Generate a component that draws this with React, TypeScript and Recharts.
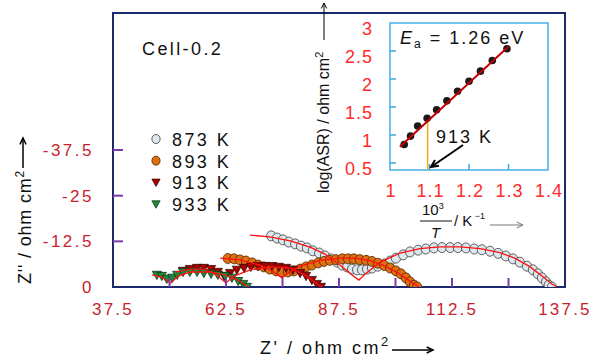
import React from "react";
import { ScatterChart, Scatter, XAxis, YAxis, ReferenceArea, ReferenceLine } from "recharts";

// Nyquist data, [Z', -Z''] in ohm cm2
const temps = ["873 K", "893 K", "913 K", "933 K"];

const s873: [number, number][] = [
  [72.5, 14.0], [73.8, 13.4], [75.1, 12.9], [76.4, 12.3], [77.8, 11.8], [79.1, 11.2], [80.4, 10.7],
  [81.7, 9.9], [83.1, 9.3], [84.4, 8.5], [85.7, 7.7], [87.1, 6.8], [88.2, 6.0], [89.3, 5.5], [90.4, 4.9],
  [91.5, 4.7], [92.6, 4.7], [93.7, 4.9], [94.8, 5.2], [96.1, 5.7], [97.5, 6.3], [98.8, 7.1], [100.1, 7.9],
  [101.7, 8.8], [103.2, 9.6], [105.0, 10.1], [106.7, 10.4], [108.5, 10.7], [110.3, 10.8], [112.1, 10.8],
  [113.8, 10.8], [115.6, 10.7], [117.4, 10.4], [119.1, 10.2], [120.9, 9.8], [122.7, 9.2], [124.4, 8.5],
  [126.0, 7.7], [127.5, 6.8], [129.1, 5.7], [130.4, 4.7], [131.5, 3.6], [132.4, 2.5], [133.3, 1.4],
  [133.9, 0.5], [134.6, 0.0],
];
const s893: [number, number][] = [
  [62.9, 7.8], [64.3, 7.7], [65.6, 7.4], [66.9, 7.1], [68.3, 6.6], [69.6, 6.0], [70.9, 5.5], [72.2, 4.9],
  [73.6, 4.4], [74.9, 4.1], [76.2, 4.1], [77.5, 4.4], [78.9, 4.9], [80.2, 5.5], [81.5, 6.0], [82.9, 6.6],
  [84.2, 7.0], [85.5, 7.3], [86.8, 7.5], [88.2, 7.7], [89.5, 7.7], [90.8, 7.7], [92.1, 7.5], [93.5, 7.3],
  [94.8, 7.0], [96.1, 6.5], [97.5, 5.9], [98.8, 5.2], [100.1, 4.4], [101.2, 3.6], [102.3, 2.5],
  [103.2, 1.4], [104.1, 0.5], [104.8, 0.0],
];
const s913: [number, number][] = [
  [53.0, 4.4], [54.5, 4.9], [56.1, 5.2], [57.6, 5.2], [59.2, 4.9], [60.7, 4.1], [62.1, 3.0], [63.4, 3.8],
  [64.9, 4.7], [66.5, 5.2], [68.0, 5.5], [69.6, 5.7], [71.1, 5.7], [72.7, 5.7], [74.2, 5.5], [75.8, 5.2],
  [77.3, 4.7], [78.9, 3.8], [80.2, 3.0], [81.5, 1.9], [82.6, 0.8], [83.5, 0.0],
];
const s933: [number, number][] = [
  [47.2, 3.3], [48.3, 3.0], [49.4, 2.2], [50.6, 2.5], [51.7, 3.3], [53.0, 4.1], [54.5, 4.1], [56.1, 4.1],
  [57.6, 3.8], [59.2, 3.6], [60.7, 3.3], [62.3, 3.0], [63.8, 2.5], [65.2, 1.6], [66.3, 0.8], [67.1, 0.0],
];

// equivalent-circuit fits
const fit873: [number, number][] = [
  [67.8, 14.2], [72.2, 13.7], [76.7, 12.6], [81.1, 10.9], [84.4, 9.0], [87.7, 6.0], [90.4, 3.3],
  [91.9, 1.9], [93.5, 3.8], [96.6, 6.8], [101.0, 9.3], [105.4, 10.5], [109.8, 11.0], [114.3, 11.0],
  [118.7, 10.5], [123.1, 9.4], [126.4, 7.9], [129.8, 5.5], [132.4, 3.0], [134.6, 0.8], [135.7, 0],
];
const fit893: [number, number][] = [
  [61.2, 7.9], [65.6, 7.4], [70.0, 6.0], [72.7, 4.4], [74.9, 2.5], [76.2, 3.8], [78.9, 5.7], [83.3, 7.3],
  [87.7, 7.9], [91.0, 7.9], [94.4, 7.2], [97.7, 5.7], [100.6, 3.8], [103.2, 1.6], [105.2, 0],
];
const fit913: [number, number][] = [
  [51.4, 4.1], [54.5, 4.9], [57.9, 4.9], [60.7, 3.0], [62.5, 1.1], [64.3, 3.0], [67.8, 4.7], [72.2, 5.5],
  [76.7, 5.2], [80.0, 3.3], [82.4, 1.1], [83.7, 0],
];
const fit933: [number, number][] = [
  [46.1, 3.3], [48.3, 2.7], [50.3, 1.1], [51.9, 3.0], [54.5, 4.1], [59.0, 4.1], [62.3, 3.3], [65.2, 1.9],
  [67.4, 0],
];

const xTicks = [37.5, 50, 62.5, 75, 87.5, 100, 112.5, 125, 137.5];
const xLabels = [37.5, 62.5, 87.5, 112.5, 137.5];
const yTicks = [0, 12.5, 25, 37.5];

// Arrhenius inset
const invT = [1.036, 1.052, 1.07, 1.094, 1.118, 1.144, 1.171, 1.2, 1.229, 1.259, 1.296];
const logAsr = [0.83, 0.98, 1.16, 1.3, 1.45, 1.61, 1.78, 1.96, 2.14, 2.33, 2.54];
const arrFit: [number, number][] = [[1.025, 0.79], [1.3, 2.58]];
const insetXTicks = [1, 1.1, 1.2, 1.3, 1.4];
const insetYTicks = [0.5, 1, 1.5, 2, 2.5, 3];
const markedT = 913;

const FONT = "'Liberation Sans', Arial, sans-serif";
const pts = (a: [number, number][]) => a.map(([x, y]) => ({ x, y }));

const styles = [
  { kind: "circle", fill: "#dde8ee", stroke: "#3a3a3a" },
  { kind: "circle", fill: "#e0700f", stroke: "#4a2300" },
  { kind: "tri", fill: "#a80000", stroke: "#2a0000" },
  { kind: "tri", fill: "#1d8a3a", stroke: "#08260e" },
];
const series = [s873, s893, s913, s933];
const fits = [fit873, fit893, fit913, fit933];

const marker = (i: number, cx: number, cy: number, k = 1) => {
  const st = styles[i];
  if (st.kind === "circle")
    return <ellipse cx={cx} cy={cy} rx={4.6 * k} ry={5 * k} fill={st.fill} stroke={st.stroke} strokeWidth={0.8} />;
  const s = 4.6 * k;
  return (
    <polygon
      points={`${cx - s},${cy - s * 0.8} ${cx + s},${cy - s * 0.8} ${cx},${cy + s}`}
      fill={st.fill}
      stroke={st.stroke}
      strokeWidth={0.7}
    />
  );
};

const MainXTick = (p: any) => {
  const { x, y, payload } = p;
  const v = payload.value;
  return (
    <g>
      {v > 37.5 && v < 137.5 && <line x1={x} x2={x} y1={y} y2={y - 9} stroke="#7a3aa8" strokeWidth={2} />}
      {xLabels.includes(v) && (
        <text x={x} y={y + 28} textAnchor="middle" fontSize={17} letterSpacing={2.2} fill="#c8232c" fontFamily={FONT}>
          {v}
        </text>
      )}
    </g>
  );
};

const MainYTick = (p: any) => {
  const { x, y, payload } = p;
  const v = payload.value;
  return (
    <g>
      {v > 0 && <line x1={x} x2={x + 10} y1={y} y2={y} stroke="#7a3aa8" strokeWidth={2} />}
      <text x={x - 19} y={y + 6} textAnchor="end" fontSize={17} letterSpacing={2.5} fill="#c8232c" fontFamily={FONT}>
        {v === 0 ? "0" : `-${v}`}
      </text>
    </g>
  );
};

const InsetXTick = (p: any) => {
  const { x, y, payload } = p;
  const v = payload.value;
  return (
    <g>
      {v > 1 && v < 1.4 && <line x1={x} x2={x} y1={y} y2={y - 6} stroke="#3aa8e0" strokeWidth={1.5} />}
      <text x={x + 1} y={y + 27} textAnchor="middle" fontSize={18} letterSpacing={1} fill="#ff2a2a" fontFamily={FONT}>
        {v}
      </text>
    </g>
  );
};

const InsetYTick = (p: any) => {
  const { x, y, payload } = p;
  const v = payload.value;
  return (
    <g>
      {v < 3 && <line x1={x} x2={x + 6} y1={y} y2={y} stroke="#3aa8e0" strokeWidth={1.5} />}
      <text x={x - 17} y={y + 12} textAnchor="end" fontSize={18} letterSpacing={1} fill="#ff2a2a" fontFamily={FONT}>
        {v}
      </text>
    </g>
  );
};

const Arrow = ({ x1, y1, x2, y2, color = "#000", w = 1.5, head = 7 }: any) => {
  const a = Math.atan2(y2 - y1, x2 - x1);
  const h1x = x2 - head * Math.cos(a - 0.45);
  const h1y = y2 - head * Math.sin(a - 0.45);
  const h2x = x2 - head * Math.cos(a + 0.45);
  const h2y = y2 - head * Math.sin(a + 0.45);
  return (
    <g stroke={color} strokeWidth={w} fill="none">
      <line x1={x1} y1={y1} x2={x2} y2={y2} />
      <polyline points={`${h1x},${h1y} ${x2},${y2} ${h2x},${h2y}`} />
    </g>
  );
};

export default function App() {
  const fitAt = (x: number) => {
    const [[x0, y0], [x1, y1]] = arrFit;
    return y0 + ((x - x0) * (y1 - y0)) / (x1 - x0);
  };
  const markX = 1000 / markedT;
  const insetPts = invT.map((x, i) => ({ x, y: logAsr[i] }));

  return (
    <div style={{ position: "absolute", left: 0, top: 0, width: 593, height: 358, background: "#fff", fontFamily: FONT }}>
      <div style={{ position: "absolute", left: 0, top: 0 }}>
        <ScatterChart width={593} height={358} margin={{ top: 13, right: 28, left: 0, bottom: 0 }}>
          <XAxis
            type="number"
            dataKey="x"
            domain={[37.5, 137.5]}
            ticks={xTicks}
            interval={0}
            allowDataOverflow
            height={71}
            tickSize={0}
            tickMargin={0}
            tickLine={false}
            axisLine={{ stroke: "#1b2a6b", strokeWidth: 2 }}
            tick={<MainXTick />}
          />
          <YAxis
            type="number"
            dataKey="y"
            domain={[0, 75]}
            ticks={yTicks}
            interval={0}
            allowDataOverflow
            width={113}
            tickSize={0}
            tickMargin={0}
            tickLine={false}
            axisLine={{ stroke: "#1b2a6b", strokeWidth: 2 }}
            tick={<MainYTick />}
          />
          <ReferenceArea x1={37.5} x2={137.5} y1={0} y2={75} fill="none" stroke="#1b2a6b" strokeWidth={2} ifOverflow="visible" />
          {series.map((s, i) => (
            <Scatter
              key={temps[i]}
              name={temps[i]}
              data={pts(s)}
              isAnimationActive={false}
              shape={(p: any) => marker(i, p.cx, p.cy)}
            />
          ))}
          {fits.map((f, i) => (
            <Scatter
              key={"fit" + temps[i]}
              data={pts(f)}
              isAnimationActive={false}
              line={{ stroke: "#ff1010", strokeWidth: 1.3 }}
              shape={() => <g />}
            />
          ))}
        </ScatterChart>
      </div>

      <div style={{ position: "absolute", left: 290, top: 0 }}>
        <ScatterChart width={303} height={240} margin={{ top: 23, right: 45, left: 0, bottom: 0 }}>
          <XAxis
            type="number"
            dataKey="x"
            domain={[1, 1.4]}
            ticks={insetXTicks}
            interval={0}
            allowDataOverflow
            height={70}
            tickSize={0}
            tickMargin={0}
            tickLine={false}
            axisLine={false}
            tick={<InsetXTick />}
          />
          <YAxis
            type="number"
            dataKey="y"
            domain={[0.375, 3]}
            ticks={insetYTicks}
            interval={0}
            allowDataOverflow
            width={100}
            tickSize={0}
            tickMargin={0}
            tickLine={false}
            axisLine={false}
            tick={<InsetYTick />}
          />
          <ReferenceArea x1={1} x2={1.4} y1={0.375} y2={3} fill="#fff" stroke="#45b0e6" strokeWidth={1.5} ifOverflow="visible" />
          <ReferenceLine
            segment={[{ x: markX, y: 0.375 }, { x: markX, y: fitAt(markX) }]}
            stroke="#f5a623"
            strokeWidth={1.5}
          />
          <Scatter
            data={insetPts}
            isAnimationActive={false}
            shape={(p: any) => <circle cx={p.cx} cy={p.cy} r={3.8} fill="#1a1a1a" />}
          />
          <Scatter
            data={pts(arrFit)}
            isAnimationActive={false}
            line={{ stroke: "#c40000", strokeWidth: 2 }}
            shape={() => <g />}
          />
        </ScatterChart>
      </div>

      <svg width={593} height={358} style={{ position: "absolute", left: 0, top: 0, pointerEvents: "none" }} fontFamily={FONT}>
        <text x={142} y={55} fontSize={18} letterSpacing={2.4} fill="#111">Cell-0.2</text>
        {temps.map((t, i) => {
          const cy = 139 + i * 21.7;
          return (
            <g key={t}>
              {marker(i, 156, cy, 0.9)}
              <text x={172} y={cy + 7} fontSize={18} letterSpacing={2.4} fill="#111">{t}</text>
            </g>
          );
        })}

        <text x={31} y={284} fontSize={18} letterSpacing={0.8} fill="#111" transform="rotate(-90 31 284)">
          Z'' / ohm cm<tspan fontSize={12} dy={-7}>2</tspan>
        </text>
        <Arrow x1={23} y1={168} x2={23} y2={138} />

        <text x={260} y={354} fontSize={18} letterSpacing={2.5} fill="#111">
          Z' / ohm cm<tspan fontSize={13} dy={-8}>2</tspan>
        </text>
        <Arrow x1={392} y1={350} x2={433} y2={350} />

        <text x={329} y={193} fontSize={16} fill="#111" transform="rotate(-90 329 193)">
          log(ASR) / ohm cm<tspan fontSize={11} dy={-6}>2</tspan>
        </text>
        <Arrow x1={324} y1={40} x2={324} y2={3} w={1} head={6} />

        <text x={400} y={44} fontSize={18} letterSpacing={2} fill="#111">
          <tspan fontStyle="italic">E</tspan>
          <tspan fontSize={12} dy={4}>a</tspan>
          <tspan dy={-4}> = 1.26 eV</tspan>
        </text>
        <text x={436} y={143} fontSize={18} letterSpacing={2} fill="#111">913 K</text>
        <Arrow x1={463} y1={145} x2={431} y2={167} w={2} head={8} />

        <text x={422} y={215} fontSize={15} fill="#111">
          10<tspan fontSize={9} dy={-6}>3</tspan>
        </text>
        <line x1={420} x2={452} y1={221} y2={221} stroke="#111" strokeWidth={1} />
        <text x={431} y={238} fontSize={15} fontStyle="italic" fill="#111">T</text>
        <text x={454} y={226} fontSize={15} fill="#111">
          / K<tspan fontSize={9} dy={-7}> −1</tspan>
        </text>
        <Arrow x1={490} y1={225} x2={523} y2={225} color="#777" w={1} head={7} />
      </svg>
    </div>
  );
}
